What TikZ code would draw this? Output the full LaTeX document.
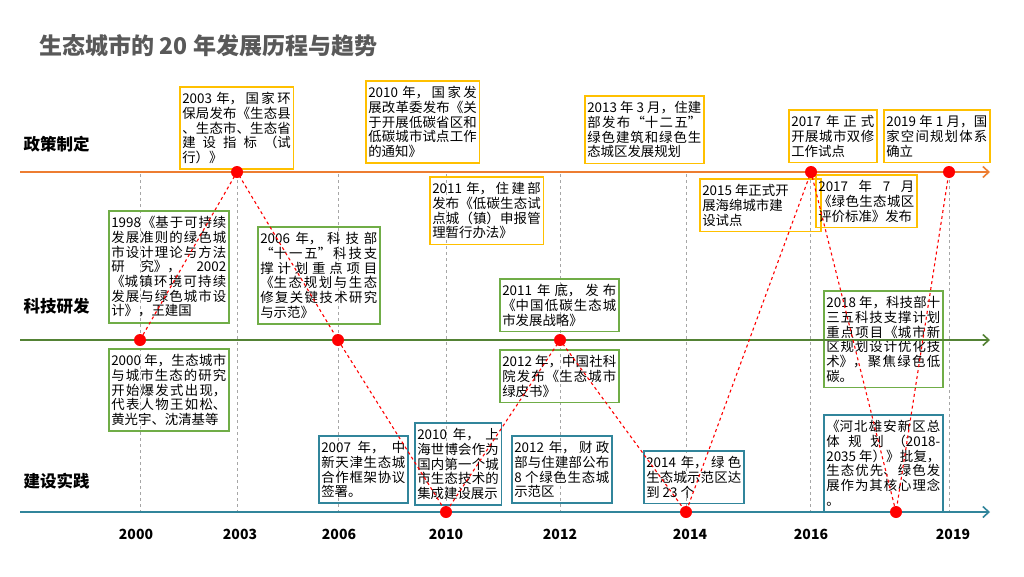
\documentclass[tikz,border=0pt]{standalone}
\usepackage{fontspec}
\setmainfont{Noto Sans CJK SC}
\usetikzlibrary{arrows.meta, positioning}
\definecolor{policyorange}{RGB}{237, 125, 49}
\definecolor{policygold}{RGB}{255, 192, 0}
\definecolor{techgreen}{RGB}{84, 130, 53}
\definecolor{techlight}{RGB}{112, 173, 71}
\definecolor{buildteal}{RGB}{49, 133, 155}
\definecolor{titlegray}{RGB}{89, 89, 89}
\XeTeXlinebreaklocale "zh"
\XeTeXlinebreakskip=0pt plus 3pt
\newcommand{\jbr}{\linebreak}

\begin{document}
\begin{tikzpicture}[x=1pt, y=-1pt,
    evbox/.style={draw, line width=1.6pt, anchor=north west, align=justify, inner xsep=2.5pt, inner ysep=5.5pt, font=\fontsize{13.4}{14.7}\selectfont},
    policybox/.style={evbox, draw=policygold},
    techbox/.style={evbox, draw=techlight},
    buildbox/.style={evbox, draw=buildteal},
    reddot/.style={circle, fill=red, inner sep=0pt, minimum size=12pt},
    axisline/.style={line width=2pt, -{Straight Barb[length=6pt, width=11pt, line width=1.6pt]}},
    guide/.style={gray!70, dashed, line width=0.8pt},
    yearlabel/.style={font=\bfseries\fontsize{14}{16}\selectfont},
    rowlabel/.style={anchor=west, font=\bfseries\fontsize{16.5}{18}\selectfont}]
    \useasboundingbox (0,0) rectangle (1024,576);

    \node [anchor=west, text=titlegray, font=\bfseries\fontsize{23}{26}\selectfont] (title) at (36,46) {生态城市的 20 年发展历程与趋势};

    \node [rowlabel] (rowpolicy) at (20,144) {政策制定};
    \node [rowlabel] (rowtech) at (20,306) {科技研发};
    \node [rowlabel] (rowbuild) at (20,481) {建设实践};

    % year guides
    \foreach \x in {140, 237, 338, 446, 560, 686, 810, 949}
        \draw [guide] (\x,174) -- (\x,511);

    % policy row
    \node [policybox, text width=108.5pt] (p2003) at (179,86) {2003 年，国家环\jbr 保局发布《生态县\jbr 、生态市、生态省\jbr 建设指标（试\jbr 行）》};
    \node [policybox, text width=108.5pt] (p2010) at (365,80) {2010 年，国家发\jbr 展改革委发布《关\jbr 于开展低碳省区和\jbr 低碳城市试点工作\jbr 的通知》};
    \node [policybox, text width=114pt] (p2013) at (584,95) {2013 年 3 月，住建\jbr 部发布“十二五”\jbr 绿色建筑和绿色生\jbr 态城区发展规划};
    \node [policybox, text width=83pt] (p2017) at (788,109) {2017 年正式\jbr 开展城市双修\jbr 工作试点};
    \node [policybox, text width=101pt] (p2019) at (883,109) {2019 年 1 月，国\jbr 家空间规划体系\jbr 确立};
    \node [policybox, text width=108.5pt] (p2011) at (429,176) {2011 年，住建部\jbr 发布《低碳生态试\jbr 点城（镇）申报管\jbr 理暂行办法》};
    \node [policybox, text width=116pt] (p2015) at (699,178) {2015 年正式开\\展海绵城市建\\设试点};
    \node [policybox, text width=96pt] (p2017b) at (815,174) {2017 年 7 月\jbr 《绿色生态城区\jbr 评价标准》发布};

    % tech row
    \node [techbox, text width=115pt] (t1998) at (108,210) {1998《基于可持续\jbr 发展准则的绿色城\jbr 市设计理论与方法\jbr 研究》，2002\jbr 《城镇环境可持续\jbr 发展与绿色城市设\jbr 计》，王建国};
    \node [techbox, text width=117pt] (t2006) at (257,226) {2006 年，科技部\jbr “十一五”科技支\jbr 撑计划重点项目\jbr 《生态规划与生态\jbr 修复关键技术研究\jbr 与示范》};
    \node [techbox, text width=114pt] (t2011) at (499,278) {2011 年底，发布\jbr 《中国低碳生态城\jbr 市发展战略》};
    \node [techbox, text width=114pt] (t2018) at (823,290) {2018 年，科技部十\jbr 三五科技支撑计划\jbr 重点项目《城市新\jbr 区规划设计优化技\jbr 术》，聚焦绿色低\jbr 碳。};
    \node [techbox, text width=115pt] (t2000) at (108,348) {2000 年，生态城市\jbr 与城市生态的研究\jbr 开始爆发式出现，\jbr 代表人物王如松、\jbr 黄光宇、沈清基等};
    \node [techbox, text width=114pt] (t2012) at (499,349) {2012 年，中国社科\jbr 院发布《生态城市\jbr 绿皮书》};

    % build row
    \node [buildbox, text width=84pt] (b2007) at (318,435) {2007 年，中\jbr 新天津生态城\jbr 合作框架协议\jbr 签署。};
    \node [buildbox, text width=81.5pt] (b2010) at (414,422) {2010 年，上\jbr 海世博会作为\jbr 国内第一个城\jbr 市生态技术的\jbr 集成建设展示};
    \node [buildbox, text width=95pt] (b2012) at (511,435) {2012 年，财政\jbr 部与住建部公布\jbr 8 个绿色生态城\jbr 示范区};
    \node [buildbox, text width=95pt] (b2014) at (643,450) {2014 年，绿色\jbr 生态城示范区达\jbr 到 23 个};
    \node [buildbox, text width=114pt] (b2018) at (823,414) {《河北雄安新区总\jbr 体规划（2018-\jbr 2035 年）》批复，\jbr 生态优先、绿色发\jbr 展作为其核心理念\jbr 。};

    % timelines
    \coordinate (policyL) at (20,172);
    \coordinate (policyR) at (990,172);
    \coordinate (techL) at (20,340);
    \coordinate (techR) at (990,340);
    \coordinate (buildL) at (20,512);
    \coordinate (buildR) at (990,512);
    \draw [axisline, policyorange] (policyL) -- (policyR);
    \draw [axisline, techgreen] (techL) -- (techR);
    \draw [axisline, buildteal] (buildL) -- (buildR);

    % milestones
    \node [reddot] (m2000) at (140,340) {};
    \node [reddot] (m2003) at (237,172) {};
    \node [reddot] (m2006) at (338,340) {};
    \node [reddot] (m2010) at (446,512) {};
    \node [reddot] (m2012) at (560,340) {};
    \node [reddot] (m2014) at (686,512) {};
    \node [reddot] (m2017) at (811,172) {};
    \node [reddot] (m2018) at (896,512) {};
    \node [reddot] (m2019) at (949,172) {};
    \draw [red, dashed, line width=1.1pt] (m2000.center) -- (m2003.center) -- (m2006.center) -- (m2010.center) -- (m2012.center) -- (m2014.center) -- (m2017.center) -- (m2018.center) -- (m2019.center);

    \node [yearlabel] (y2000) at (136,534) {2000};
    \node [yearlabel] (y2003) at (240,534) {2003};
    \node [yearlabel] (y2006) at (339,534) {2006};
    \node [yearlabel] (y2010) at (446,534) {2010};
    \node [yearlabel] (y2012) at (560,534) {2012};
    \node [yearlabel] (y2014) at (690,534) {2014};
    \node [yearlabel] (y2016) at (811,534) {2016};
    \node [yearlabel] (y2019) at (953,534) {2019};
\end{tikzpicture}
\end{document}
